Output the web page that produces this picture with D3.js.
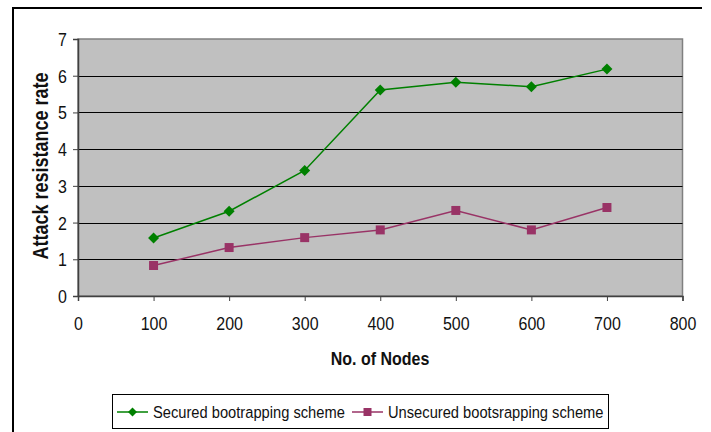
<!DOCTYPE html>
<html><head><meta charset="utf-8">
<script src="https://cdn.jsdelivr.net/npm/d3@7"></script>
<style>body{margin:0;background:#fff}text{font-family:Arial,"Liberation Sans",sans-serif}</style>
</head><body>
<svg id="c" width="711" height="432"></svg>
<script>
const nodes = [100, 200, 300, 400, 500, 600, 700];
const secured = [1.58, 2.31, 3.42, 5.61, 5.82, 5.70, 6.18];
const unsecured = [0.83, 1.32, 1.59, 1.80, 2.33, 1.80, 2.41];
const xTicks = [0, 100, 200, 300, 400, 500, 600, 700, 800];
const yTicks = [0, 1, 2, 3, 4, 5, 6, 7];
const seriesNames = ["Secured bootrapping scheme", "Unsecured bootsrapping scheme"];

const svg = d3.select("#c");
const L = 78, R = 682.5, T = 39, B = 296;
const SY = 1.18;
const x = d3.scaleLinear().domain([0, 800]).range([L, R]);
const y = d3.scaleLinear().domain([0, 7]).range([B, T]);

function stext(parent, tx, ty, str, size, anchor, bold, rot) {
  return parent.append("text")
    .attr("transform", `translate(${tx},${ty})${rot ? " rotate(-90)" : ""} scale(1,${SY})`)
    .attr("text-anchor", anchor).attr("font-size", size)
    .attr("font-weight", bold ? "bold" : "normal").attr("fill", "#111").text(str);
}

// outer frame (cropped)
svg.append("line").attr("x1", 12).attr("x2", 702).attr("y1", 8).attr("y2", 8).attr("stroke", "#000").attr("stroke-width", 2);
svg.append("line").attr("x1", 13).attr("x2", 13).attr("y1", 7).attr("y2", 432).attr("stroke", "#000").attr("stroke-width", 2);

// plot background
svg.append("rect").attr("x", L).attr("y", T).attr("width", R - L).attr("height", B - T)
  .attr("fill", "#c0c0c0").attr("stroke", "#808080").attr("stroke-width", 1.5);

// gridlines
svg.append("g").selectAll("line").data(yTicks.filter(d => d > 0 && d < 7)).join("line")
  .attr("x1", L).attr("x2", R).attr("y1", d => Math.round(y(d)) + 0.5).attr("y2", d => Math.round(y(d)) + 0.5)
  .attr("stroke", "#000").attr("stroke-width", 1);

// axes
const xa = svg.append("g").attr("transform", `translate(0,${B})`)
  .call(d3.axisBottom(x).tickValues(xTicks).tickSize(5).tickFormat(d3.format("d")));
const ya = svg.append("g").attr("transform", `translate(${L},0)`)
  .call(d3.axisLeft(y).tickValues(yTicks).tickSize(5).tickFormat(d3.format("d")));
[xa, ya].forEach(a => {
  a.select(".domain").attr("stroke", "#404040").attr("stroke-width", 1.5);
  a.selectAll(".tick line").attr("stroke", "#404040");
  a.selectAll(".tick text").remove();
});
xa.selectAll(".tick").each(function (d) { stext(d3.select(this), 0, 34, String(d), 16, "middle"); });
ya.selectAll(".tick").each(function (d) { stext(d3.select(this), -11, 6.5, String(d), 16, "end"); });

// titles
stext(svg, 380, 365, "No. of Nodes", 16, "middle", true);
stext(svg, 48, 166, "Attack resistance rate", 18, "middle", true, true);

// series
const line = d3.line().x((d, i) => x(nodes[i])).y(d => y(d));
const colors = ["#008000", "#993366"];
const diamond = "M0,-5.5L5.5,0L0,5.5L-5.5,0Z";
const square = "M-4.5,-4.5H4.5V4.5H-4.5Z";

svg.append("path").datum(secured).attr("d", line).attr("fill", "none").attr("stroke", colors[0]).attr("stroke-width", 1.5);
svg.append("path").datum(unsecured).attr("d", line).attr("fill", "none").attr("stroke", colors[1]).attr("stroke-width", 1.5);
svg.append("g").selectAll("path").data(secured).join("path")
  .attr("d", diamond).attr("fill", colors[0])
  .attr("transform", (d, i) => `translate(${x(nodes[i])},${y(d)})`);
svg.append("g").selectAll("path").data(unsecured).join("path")
  .attr("d", square).attr("fill", colors[1])
  .attr("transform", (d, i) => `translate(${x(nodes[i])},${y(d)})`);

// legend
svg.append("rect").attr("x", 112.5).attr("y", 394.5).attr("width", 496).attr("height", 34)
  .attr("fill", "#fff").attr("stroke", "#000").attr("stroke-width", 1);
const ly = 412;
const leg = [{x1: 117, x2: 148, tx: 153, sym: "M0,-4.5L4.5,0L0,4.5L-4.5,0Z"}, {x1: 352, x2: 383, tx: 388, sym: "M-4,-4H4V4H-4Z"}];
leg.forEach((l, i) => {
  svg.append("line").attr("x1", l.x1).attr("x2", l.x2).attr("y1", ly).attr("y2", ly).attr("stroke", colors[i]).attr("stroke-width", 1.5);
  svg.append("path").attr("d", l.sym).attr("fill", colors[i]).attr("transform", `translate(${(l.x1 + l.x2) / 2},${ly})`);
  stext(svg, l.tx, ly + 6, seriesNames[i], 14.7, "start");
});
</script>
</body></html>
